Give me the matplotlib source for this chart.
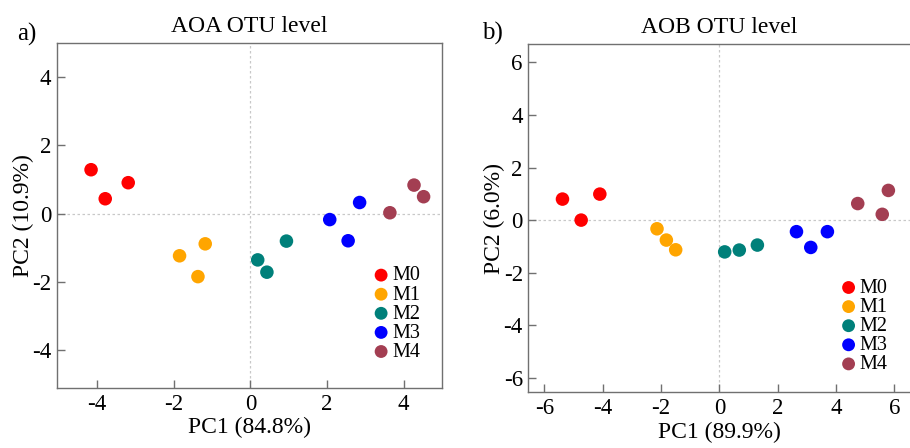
import matplotlib
matplotlib.use("Agg")
import matplotlib.pyplot as plt

plt.rcParams["font.family"] = ["Liberation Serif", "DejaVu Serif"]
plt.rcParams["axes.unicode_minus"] = False

groups = ["M0", "M1", "M2", "M3", "M4"]
colors = ["#FF0000", "#FFA500", "#00807A", "#0000FF", "#A33E52"]

# AOA OTU level (PC1 84.8%, PC2 10.9%)
aoa_x = {
    "M0": [-4.16, -3.79, -3.19],
    "M1": [-1.85, -1.18, -1.37],
    "M2": [0.19, 0.43, 0.94],
    "M3": [2.07, 2.55, 2.85],
    "M4": [3.64, 4.27, 4.52],
}
aoa_y = {
    "M0": [1.29, 0.44, 0.91],
    "M1": [-1.23, -0.88, -1.84],
    "M2": [-1.35, -1.71, -0.80],
    "M3": [-0.17, -0.79, 0.33],
    "M4": [0.03, 0.84, 0.50],
}

# AOB OTU level (PC1 89.9%, PC2 6.0%)
aob_x = {
    "M0": [-5.38, -4.74, -4.10],
    "M1": [-2.14, -1.82, -1.50],
    "M2": [0.18, 0.68, 1.30],
    "M3": [2.64, 3.13, 3.70],
    "M4": [4.74, 5.58, 5.79],
}
aob_y = {
    "M0": [0.80, 0.00, 0.99],
    "M1": [-0.33, -0.76, -1.13],
    "M2": [-1.21, -1.14, -0.95],
    "M3": [-0.44, -1.04, -0.44],
    "M4": [0.63, 0.22, 1.13],
}

fig = plt.figure(figsize=(9.1, 4.48), dpi=100)
ax1 = fig.add_axes([0.0626, 0.134, 0.4231, 0.770])
ax2 = fig.add_axes([0.5806, 0.124, 0.4200, 0.777])

panels = [
    (ax1, aoa_x, aoa_y, "AOA OTU level", "PC1 (84.8%)", "PC2 (10.9%)",
     (-5.05, 5.0), (-5.1, 5.0), [-4, -2, 0, 2, 4], [-4, -2, 0, 2, 4], (0.98, 0.035)),
    (ax2, aob_x, aob_y, "AOB OTU level", "PC1 (89.9%)", "PC2 (6.0%)",
     (-6.55, 6.55), (-6.56, 6.69), [-6, -4, -2, 0, 2, 4, 6], [-6, -4, -2, 0, 2, 4, 6], (0.977, 0.012)),
]

for ax, xs, ys, title, xlab, ylab, xlim, ylim, xt, yt, leg_pos in panels:
    ax.axvline(0, color="#c8c8c8", lw=0.9, ls=(0, (2, 2)), zorder=0)
    ax.axhline(0, color="#c8c8c8", lw=0.9, ls=(0, (2, 2)), zorder=0)
    for g, c in zip(groups, colors):
        ax.scatter(xs[g], ys[g], s=95, color=c, edgecolors="none", label=g, zorder=3)
    ax.set_xlim(*xlim)
    ax.set_ylim(*ylim)
    ax.set_xticks(xt)
    ax.set_yticks(yt)
    ax.tick_params(direction="in", length=6, width=1, color="#707070",
                   labelsize=16.5, pad=4)
    for sp in ax.spines.values():
        sp.set_color("#707070")
        sp.set_linewidth(1)
    ax.set_title(title, fontsize=17, pad=8)
    ax.set_xlabel(xlab, fontsize=17, labelpad=2)
    ax.set_ylabel(ylab, fontsize=17, labelpad=-1)
    ax.legend(loc="lower right", bbox_to_anchor=leg_pos, frameon=False,
              fontsize=14.5, handletextpad=-0.45, labelspacing=0.0,
              markerscale=0.95, borderpad=0.2)

fig.text(0.019, 0.922, "a)", fontsize=18, va="center", ha="left")
fig.text(0.530, 0.926, "b)", fontsize=18, va="center", ha="left")

fig.savefig("out.png", dpi=100)
